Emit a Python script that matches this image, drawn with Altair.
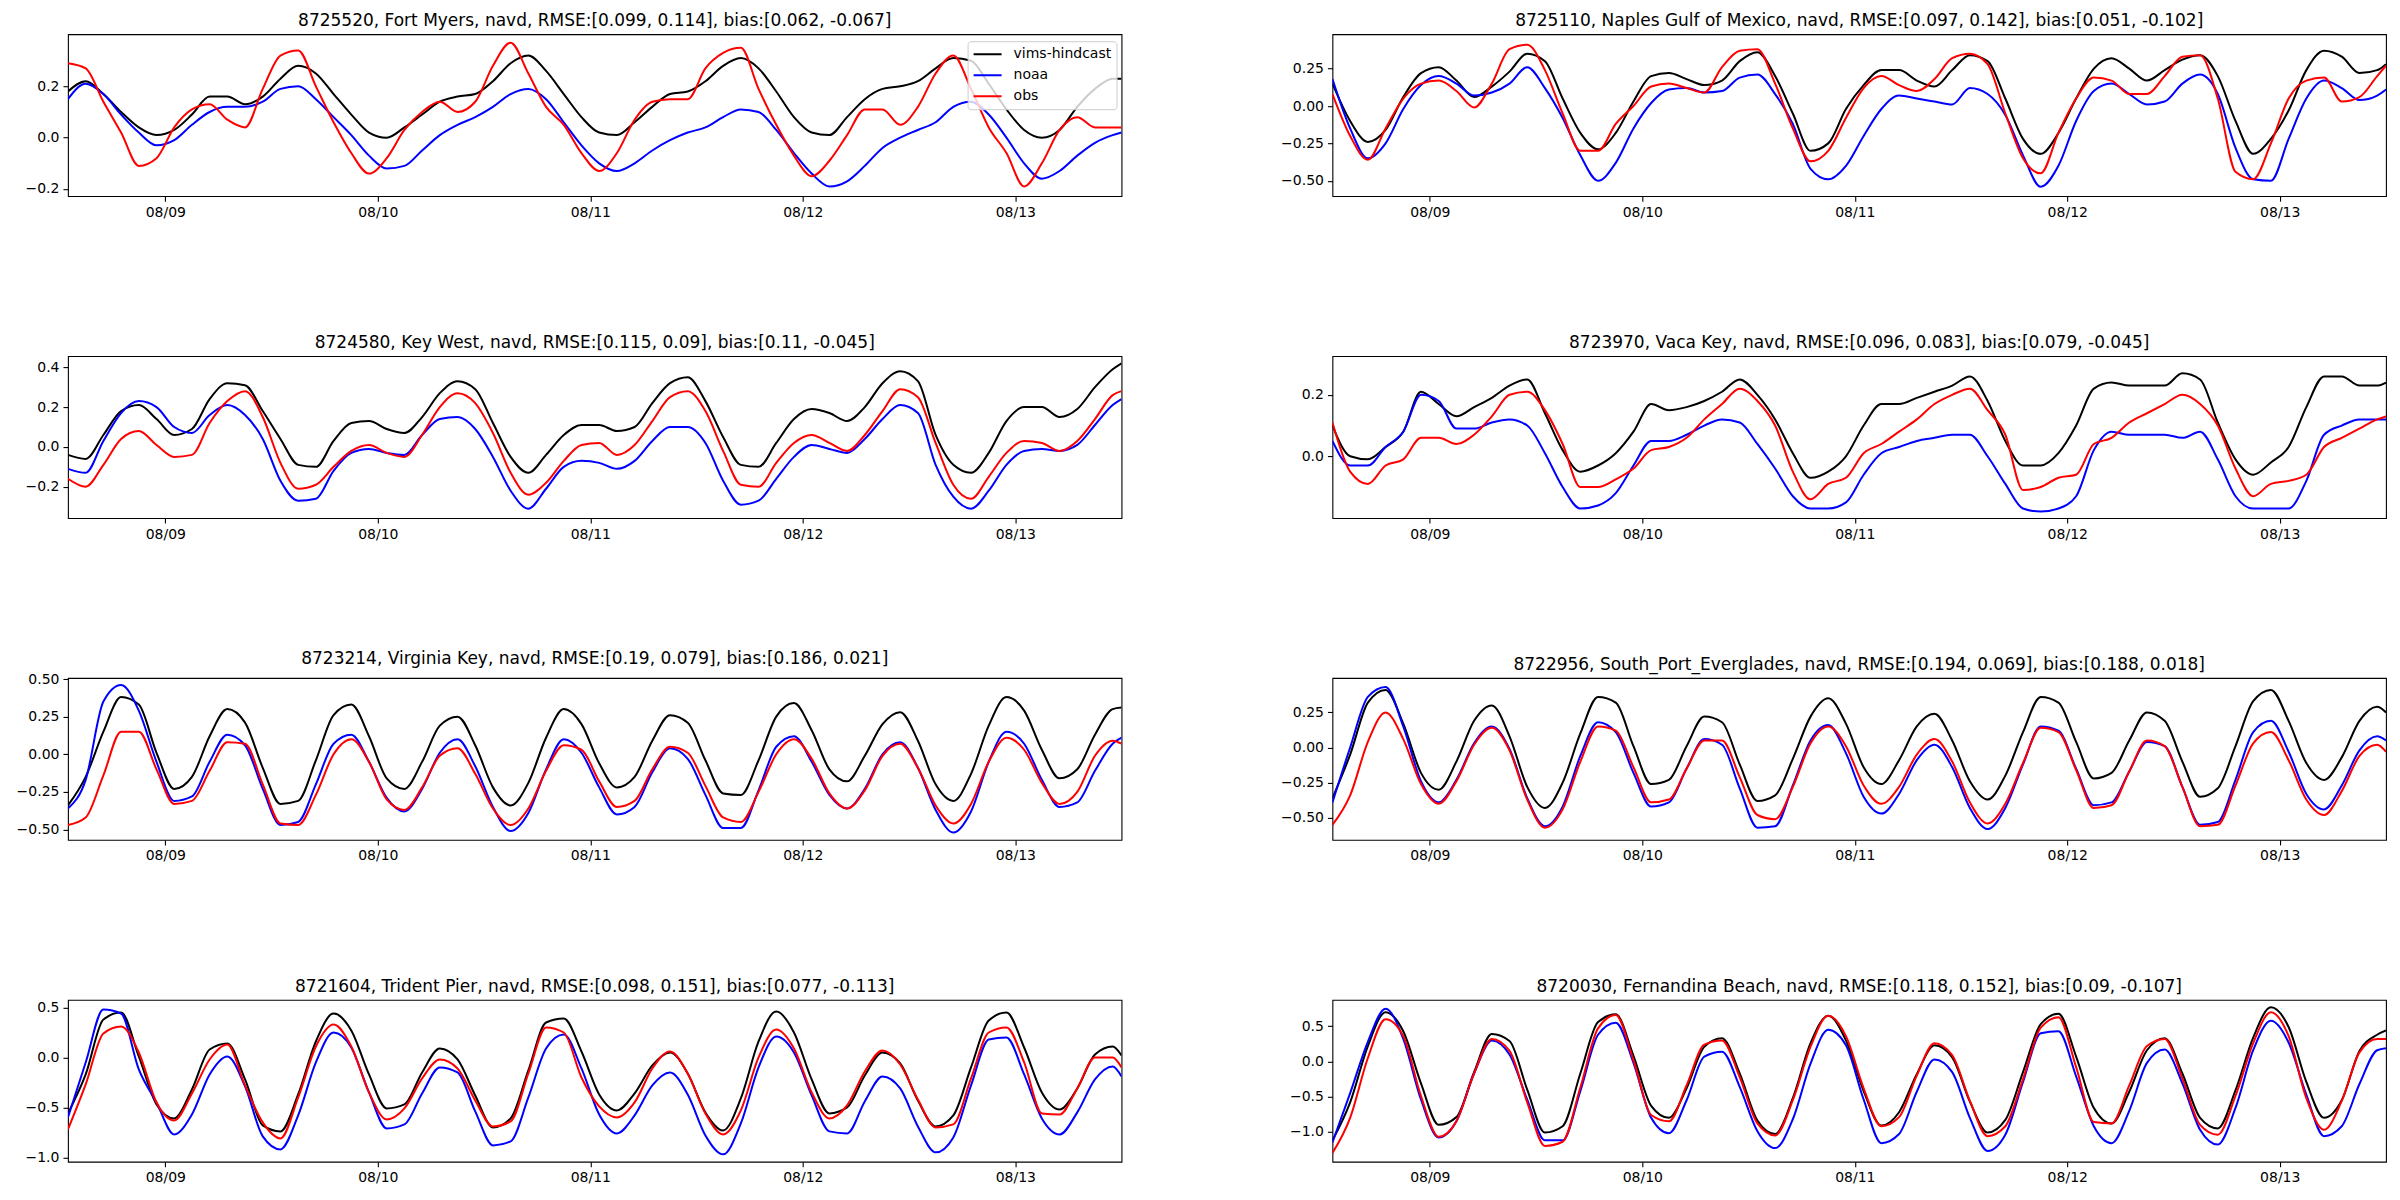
import altair as alt
import pandas as pd

SERIES = ["vims-hindcast", "noaa", "obs"]
COLORS = ["#000000", "#0000ff", "#ff0000"]
HOURS = list(range(0, 119, 2)) + [119]
START = pd.Timestamp("2022-08-08 13:00")
TIMES = [(START + pd.Timedelta(hours=h)).strftime("%Y-%m-%dT%H:%M:%S") for h in HOURS]

# ---- 8725520 Fort Myers
fm_vims = [0.18,0.22,0.17,0.10,0.04,0.01,0.03,0.09,0.16,0.16,
           0.13,0.16,0.23,0.28,0.25,0.17,0.09,0.02,0.00,0.04,
           0.09,0.14,0.16,0.17,0.22,0.29,0.32,0.26,0.17,0.08,
           0.02,0.01,0.06,0.12,0.17,0.18,0.22,0.28,0.31,0.27,
           0.18,0.08,0.02,0.01,0.08,0.15,0.19,0.20,0.22,0.27,
           0.31,0.30,0.21,0.11,0.03,0.00,0.03,0.12,0.19,0.23,
           0.23]
fm_noaa = [0.15,0.21,0.17,0.09,0.02,-0.03,-0.01,0.05,0.10,0.12,
           0.12,0.14,0.19,0.20,0.15,0.08,0.01,-0.07,-0.12,-0.11,
           -0.05,0.01,0.05,0.08,0.12,0.17,0.19,0.15,0.06,-0.03,
           -0.10,-0.13,-0.10,-0.05,-0.01,0.02,0.04,0.08,0.11,0.10,
           0.03,-0.06,-0.14,-0.19,-0.17,-0.11,-0.04,0.00,0.03,0.06,
           0.12,0.14,0.09,0.00,-0.10,-0.16,-0.13,-0.07,-0.02,0.01,
           0.02]
fm_obs = [0.29,0.27,0.14,0.02,-0.11,-0.08,0.04,0.11,0.13,0.07,
          0.04,0.19,0.32,0.34,0.20,0.06,-0.06,-0.14,-0.08,0.03,
          0.10,0.14,0.10,0.14,0.28,0.37,0.25,0.12,0.05,-0.06,
          -0.13,-0.06,0.07,0.14,0.15,0.15,0.27,0.33,0.35,0.19,
          0.05,-0.07,-0.15,-0.09,0.01,0.11,0.11,0.05,0.12,0.25,
          0.32,0.19,0.04,-0.06,-0.19,-0.10,0.03,0.08,0.04,0.04,
          0.04]

# ---- 8725110 Naples Gulf of Mexico
nap_vims = [0.15,-0.10,-0.24,-0.16,0.06,0.22,0.26,0.17,0.06,0.13,
            0.23,0.35,0.30,0.05,-0.18,-0.29,-0.18,0.03,0.20,0.22,
            0.18,0.14,0.17,0.30,0.36,0.20,-0.05,-0.30,-0.25,-0.02,
            0.14,0.24,0.24,0.17,0.13,0.24,0.34,0.30,0.05,-0.22,
            -0.32,-0.18,0.05,0.25,0.32,0.25,0.17,0.24,0.31,0.34,
            0.20,-0.10,-0.32,-0.22,-0.03,0.24,0.37,0.33,0.22,0.24,
            0.28]
nap_noaa = [0.18,-0.15,-0.35,-0.25,-0.02,0.14,0.20,0.15,0.07,0.09,
            0.15,0.26,0.12,-0.08,-0.33,-0.50,-0.38,-0.15,0.02,0.11,
            0.12,0.09,0.10,0.19,0.21,0.08,-0.12,-0.42,-0.49,-0.40,
            -0.20,-0.02,0.07,0.05,0.03,0.01,0.12,0.08,-0.06,-0.33,
            -0.54,-0.40,-0.10,0.10,0.15,0.08,0.01,0.03,0.15,0.21,
            0.08,-0.28,-0.49,-0.50,-0.22,0.05,0.17,0.12,0.04,0.07,
            0.11]
nap_obs = [0.08,-0.20,-0.36,-0.15,0.05,0.15,0.17,0.10,-0.01,0.15,
           0.38,0.41,0.24,-0.05,-0.30,-0.30,-0.12,0.00,0.13,0.15,
           0.12,0.09,0.26,0.37,0.38,0.15,-0.15,-0.37,-0.30,-0.08,
           0.12,0.20,0.14,0.10,0.18,0.32,0.35,0.28,-0.05,-0.35,
           -0.45,-0.18,0.05,0.19,0.17,0.08,0.08,0.20,0.33,0.34,
           0.05,-0.44,-0.49,-0.25,0.05,0.17,0.19,0.03,0.06,0.20,
           0.27]

# ---- 8724580 Key West
kw_vims = [-0.04,-0.06,0.06,0.18,0.21,0.14,0.06,0.09,0.24,0.32,
           0.31,0.18,0.04,-0.09,-0.10,0.03,0.12,0.13,0.09,0.07,
           0.15,0.27,0.33,0.29,0.12,-0.05,-0.13,-0.04,0.06,0.11,
           0.11,0.08,0.10,0.22,0.32,0.35,0.23,0.05,-0.09,-0.10,
           0.02,0.14,0.19,0.17,0.13,0.20,0.32,0.38,0.33,0.06,
           -0.09,-0.13,-0.03,0.13,0.20,0.20,0.15,0.19,0.30,0.39,
           0.42]
kw_noaa = [-0.11,-0.13,0.03,0.17,0.23,0.20,0.10,0.07,0.16,0.21,
           0.16,0.04,-0.17,-0.27,-0.26,-0.12,-0.03,-0.01,-0.03,-0.04,
           0.06,0.14,0.15,0.09,-0.05,-0.22,-0.31,-0.21,-0.10,-0.07,
           -0.08,-0.11,-0.07,0.03,0.10,0.10,0.02,-0.17,-0.29,-0.27,
           -0.16,-0.05,0.01,-0.01,-0.03,0.04,0.14,0.21,0.17,-0.09,
           -0.25,-0.31,-0.22,-0.09,-0.02,-0.01,-0.02,0.01,0.11,0.21,
           0.24]
kw_obs = [-0.16,-0.20,-0.09,0.04,0.08,0.01,-0.05,-0.04,0.12,0.23,
          0.28,0.15,-0.08,-0.21,-0.19,-0.10,-0.02,0.01,-0.03,-0.05,
          0.06,0.20,0.27,0.22,0.07,-0.13,-0.24,-0.18,-0.07,0.01,
          0.02,-0.04,0.01,0.13,0.25,0.28,0.18,-0.02,-0.19,-0.20,
          -0.08,0.02,0.06,0.02,-0.02,0.06,0.18,0.29,0.25,0.02,
          -0.19,-0.26,-0.15,-0.03,0.03,0.02,-0.02,0.03,0.14,0.26,
          0.28]

# ---- 8723970 Vaca Key
vk_vims = [0.10,0.00,-0.01,0.03,0.08,0.21,0.17,0.13,0.16,0.19,
           0.23,0.25,0.14,0.02,-0.05,-0.03,0.01,0.08,0.17,0.15,
           0.16,0.18,0.21,0.25,0.20,0.12,0.01,-0.07,-0.05,0.00,
           0.10,0.17,0.17,0.19,0.21,0.23,0.26,0.18,0.05,-0.03,
           -0.03,0.01,0.10,0.22,0.24,0.23,0.23,0.23,0.27,0.25,
           0.11,-0.01,-0.06,-0.02,0.03,0.16,0.26,0.26,0.23,0.23,
           0.24]
vk_noaa = [0.05,-0.03,-0.03,0.03,0.08,0.20,0.18,0.09,0.09,0.11,
           0.12,0.10,0.01,-0.10,-0.17,-0.16,-0.12,-0.03,0.05,0.05,
           0.07,0.10,0.12,0.11,0.04,-0.04,-0.13,-0.17,-0.17,-0.15,
           -0.06,0.01,0.03,0.05,0.06,0.07,0.07,0.00,-0.09,-0.17,
           -0.18,-0.17,-0.13,0.02,0.08,0.07,0.07,0.07,0.06,0.08,
           -0.01,-0.13,-0.17,-0.17,-0.17,-0.08,0.07,0.10,0.12,0.12,
           0.12]
vk_obs = [0.11,-0.05,-0.09,-0.03,-0.01,0.06,0.06,0.04,0.07,0.13,
          0.20,0.21,0.15,0.04,-0.10,-0.10,-0.075,-0.04,0.02,0.03,
          0.06,0.12,0.17,0.22,0.18,0.10,-0.05,-0.14,-0.09,-0.07,
          0.01,0.04,0.08,0.12,0.17,0.20,0.22,0.15,0.07,-0.11,
          -0.10,-0.07,-0.06,0.04,0.06,0.11,0.14,0.17,0.20,0.17,
          0.10,-0.04,-0.13,-0.09,-0.08,-0.06,0.03,0.06,0.09,0.12,
          0.13]

# ---- 8723214 Virginia Key
vak_vims = [-0.34,-0.15,0.15,0.38,0.33,0.01,-0.23,-0.15,0.12,0.30,
            0.21,-0.09,-0.33,-0.31,-0.04,0.26,0.33,0.12,-0.16,-0.23,
            -0.05,0.19,0.25,0.06,-0.22,-0.34,-0.19,0.11,0.30,0.20,
            -0.06,-0.22,-0.15,0.09,0.26,0.21,-0.04,-0.26,-0.27,-0.04,
            0.25,0.34,0.16,-0.10,-0.18,-0.01,0.20,0.28,0.09,-0.20,
            -0.31,-0.13,0.19,0.38,0.29,0.03,-0.16,-0.10,0.13,0.30,
            0.31]
vak_noaa = [-0.36,-0.17,0.35,0.46,0.29,-0.05,-0.31,-0.28,-0.05,0.13,
            0.06,-0.23,-0.47,-0.45,-0.20,0.07,0.13,-0.05,-0.29,-0.38,
            -0.23,0.01,0.10,-0.08,-0.35,-0.51,-0.39,-0.10,0.10,0.01,
            -0.22,-0.40,-0.35,-0.12,0.04,-0.03,-0.27,-0.49,-0.49,-0.24,
            0.05,0.12,-0.05,-0.27,-0.36,-0.23,0.00,0.08,-0.09,-0.37,
            -0.52,-0.38,-0.05,0.15,0.07,-0.17,-0.35,-0.32,-0.11,0.07,
            0.11]
vak_obs = [-0.47,-0.42,-0.14,0.15,0.15,-0.10,-0.33,-0.31,-0.11,0.08,
           0.07,-0.20,-0.46,-0.47,-0.27,0.00,0.10,-0.05,-0.30,-0.37,
           -0.22,-0.01,0.04,-0.13,-0.36,-0.47,-0.36,-0.11,0.06,0.03,
           -0.18,-0.35,-0.31,-0.10,0.05,0.01,-0.21,-0.42,-0.45,-0.25,
           0.00,0.10,-0.03,-0.26,-0.36,-0.24,-0.01,0.07,-0.09,-0.34,
           -0.46,-0.33,-0.05,0.11,0.03,-0.19,-0.33,-0.25,-0.01,0.09,
           0.07]

# ---- 8722956 South_Port_Everglades
spe_vims = [-0.36,-0.05,0.32,0.41,0.17,-0.18,-0.30,-0.10,0.19,0.30,
            0.08,-0.28,-0.43,-0.25,0.10,0.36,0.32,0.01,-0.26,-0.23,
            0.01,0.22,0.18,-0.12,-0.38,-0.34,-0.08,0.22,0.35,0.17,
            -0.14,-0.26,-0.09,0.15,0.24,0.05,-0.24,-0.37,-0.20,0.11,
            0.36,0.32,0.04,-0.22,-0.18,0.05,0.25,0.19,-0.10,-0.35,
            -0.29,0.01,0.33,0.41,0.19,-0.11,-0.23,-0.07,0.19,0.29,
            0.25]
spe_noaa = [-0.39,0.00,0.36,0.43,0.15,-0.24,-0.39,-0.23,0.03,0.15,
            -0.01,-0.36,-0.56,-0.42,-0.06,0.18,0.11,-0.18,-0.42,-0.39,
            -0.15,0.06,0.02,-0.29,-0.57,-0.56,-0.27,0.05,0.16,-0.04,
            -0.35,-0.47,-0.33,-0.09,0.02,-0.14,-0.43,-0.58,-0.43,-0.12,
            0.15,0.12,-0.15,-0.41,-0.39,-0.17,0.04,0.01,-0.28,-0.55,
            -0.53,-0.23,0.11,0.19,-0.03,-0.33,-0.44,-0.27,-0.02,0.08,
            0.05]
spe_obs = [-0.55,-0.34,0.04,0.25,0.06,-0.26,-0.40,-0.24,0.02,0.14,
           -0.02,-0.37,-0.57,-0.44,-0.10,0.15,0.12,-0.14,-0.39,-0.37,
           -0.15,0.05,0.05,-0.21,-0.48,-0.51,-0.28,0.03,0.15,0.01,
           -0.27,-0.40,-0.28,-0.05,0.06,-0.10,-0.39,-0.54,-0.40,-0.11,
           0.14,0.11,-0.16,-0.43,-0.41,-0.17,0.05,0.01,-0.28,-0.56,
           -0.55,-0.27,0.03,0.11,-0.09,-0.37,-0.48,-0.31,-0.06,0.02,
           -0.03]

# ---- 8721604 Trident Pier
tp_vims = [-0.56,-0.17,0.38,0.45,0.01,-0.47,-0.61,-0.32,0.08,0.14,
           -0.22,-0.68,-0.74,-0.37,0.16,0.44,0.27,-0.17,-0.51,-0.47,
           -0.15,0.09,-0.02,-0.38,-0.70,-0.61,-0.13,0.35,0.39,0.06,
           -0.37,-0.53,-0.36,-0.08,0.05,-0.16,-0.55,-0.73,-0.41,0.16,
           0.46,0.25,-0.22,-0.56,-0.50,-0.18,0.05,-0.06,-0.43,-0.69,
           -0.58,-0.10,0.37,0.45,0.10,-0.35,-0.52,-0.31,0.03,0.11,
           0.02]
tp_noaa = [-0.60,-0.05,0.48,0.44,-0.12,-0.45,-0.77,-0.57,-0.17,0.01,
           -0.29,-0.79,-0.92,-0.58,-0.05,0.25,0.10,-0.35,-0.71,-0.67,
           -0.36,-0.10,-0.15,-0.54,-0.88,-0.84,-0.40,0.09,0.23,-0.11,
           -0.57,-0.76,-0.58,-0.28,-0.15,-0.37,-0.78,-0.97,-0.66,-0.10,
           0.21,0.05,-0.38,-0.74,-0.76,-0.44,-0.19,-0.31,-0.69,-0.95,
           -0.80,-0.28,0.18,0.20,-0.17,-0.61,-0.77,-0.55,-0.22,-0.09,
           -0.19]
tp_obs = [-0.72,-0.27,0.24,0.31,0.05,-0.45,-0.63,-0.36,-0.02,0.13,
          -0.28,-0.65,-0.81,-0.40,0.11,0.33,0.11,-0.35,-0.62,-0.51,
          -0.21,-0.02,-0.11,-0.43,-0.69,-0.64,-0.16,0.30,0.25,-0.20,
          -0.49,-0.60,-0.45,-0.11,0.06,-0.16,-0.56,-0.77,-0.53,0.00,
          0.28,0.09,-0.35,-0.61,-0.48,-0.14,0.07,-0.07,-0.42,-0.70,
          -0.67,-0.21,0.25,0.30,-0.05,-0.56,-0.57,-0.31,0.00,0.00,
          -0.10]

# ---- 8720030 Fernandina Beach
fb_vims = [-1.12,-0.58,0.22,0.70,0.43,-0.31,-0.90,-0.79,-0.15,0.39,
           0.29,-0.40,-1.01,-0.92,-0.17,0.56,0.67,0.08,-0.63,-0.80,
           -0.38,0.21,0.33,-0.17,-0.84,-1.03,-0.52,0.26,0.65,0.30,
           -0.42,-0.91,-0.72,-0.18,0.23,0.06,-0.57,-1.01,-0.83,-0.15,
           0.53,0.68,0.07,-0.66,-0.88,-0.43,0.16,0.33,-0.17,-0.80,
           -0.95,-0.41,0.34,0.77,0.49,-0.29,-0.80,-0.55,0.15,0.38,
           0.44]
fb_noaa = [-1.15,-0.45,0.28,0.75,0.32,-0.54,-1.08,-0.85,-0.17,0.30,
           0.10,-0.54,-1.12,-1.12,-0.42,0.38,0.55,-0.02,-0.80,-1.02,
           -0.55,0.07,0.14,-0.36,-0.99,-1.23,-0.82,-0.03,0.45,0.23,
           -0.54,-1.16,-1.03,-0.43,0.03,-0.15,-0.80,-1.27,-1.04,-0.29,
           0.40,0.43,-0.21,-0.92,-1.16,-0.70,-0.02,0.17,-0.31,-0.97,
           -1.18,-0.66,0.16,0.58,0.27,-0.47,-1.06,-0.92,-0.32,0.16,
           0.19]
fb_obs = [-1.30,-0.80,0.05,0.60,0.36,-0.49,-1.07,-0.85,-0.17,0.32,
          0.15,-0.58,-1.20,-1.14,-0.37,0.47,0.66,0.02,-0.76,-0.85,
          -0.34,0.24,0.30,-0.22,-0.88,-1.05,-0.55,0.21,0.65,0.36,
          -0.38,-0.92,-0.79,-0.20,0.26,0.09,-0.56,-1.06,-0.92,-0.25,
          0.48,0.63,-0.08,-0.86,-0.88,-0.34,0.22,0.32,-0.24,-0.90,
          -1.04,-0.49,0.26,0.70,0.36,-0.52,-0.97,-0.56,0.13,0.32,
          0.32]

TITLES = [
    "8725520, Fort Myers, navd, RMSE:[0.099, 0.114], bias:[0.062, -0.067]",
    "8725110, Naples Gulf of Mexico, navd, RMSE:[0.097, 0.142], bias:[0.051, -0.102]",
    "8724580, Key West, navd, RMSE:[0.115, 0.09], bias:[0.11, -0.045]",
    "8723970, Vaca Key, navd, RMSE:[0.096, 0.083], bias:[0.079, -0.045]",
    "8723214, Virginia Key, navd, RMSE:[0.19, 0.079], bias:[0.186, 0.021]",
    "8722956, South_Port_Everglades, navd, RMSE:[0.194, 0.069], bias:[0.188, 0.018]",
    "8721604, Trident Pier, navd, RMSE:[0.098, 0.151], bias:[0.077, -0.113]",
    "8720030, Fernandina Beach, navd, RMSE:[0.118, 0.152], bias:[0.09, -0.107]",
]
DATA = [
    (fm_vims, fm_noaa, fm_obs), (nap_vims, nap_noaa, nap_obs),
    (kw_vims, kw_noaa, kw_obs), (vk_vims, vk_noaa, vk_obs),
    (vak_vims, vak_noaa, vak_obs), (spe_vims, spe_noaa, spe_obs),
    (tp_vims, tp_noaa, tp_obs), (fb_vims, fb_noaa, fb_obs),
]
Y_DOMAINS = [[-0.228, 0.403], [-0.603, 0.480], [-0.357, 0.456], [-0.201, 0.326],
             [-0.569, 0.507], [-0.657, 0.495], [-1.044, 0.577], [-1.424, 0.876]]
Y_TICKS = [[-0.2, 0.0, 0.2], [-0.5, -0.25, 0.0, 0.25], [-0.2, 0.0, 0.2, 0.4], [0.0, 0.2],
           [-0.5, -0.25, 0.0, 0.25, 0.5], [-0.5, -0.25, 0.0, 0.25],
           [-1.0, -0.5, 0.0, 0.5], [-1.0, -0.5, 0.0, 0.5]]
Y_FORMATS = [".1f", ".2f", ".1f", ".1f", ".2f", ".2f", ".1f", ".1f"]

for trio in DATA:
    for arr in trio:
        if len(arr) != len(HOURS):
            raise ValueError("length mismatch %d" % len(arr))

X_DOMAIN = [alt.DateTime(year=2022, month=8, date=8, hours=13),
            alt.DateTime(year=2022, month=8, date=13, hours=12)]
X_TICKS = [alt.DateTime(year=2022, month=8, date=d) for d in range(9, 14)]

FONT = "DejaVu Sans"


def make_panel(i):
    vims, noaa, obs = DATA[i]
    df = pd.DataFrame({"time": TIMES, "vims-hindcast": vims, "noaa": noaa, "obs": obs})
    df = df.melt("time", var_name="series", value_name="value")
    if i == 0:
        legend = alt.Legend(orient="none", legendX=900, legendY=7, title=None,
                            direction="vertical", symbolType="stroke", symbolSize=784,
                            clipHeight=16, symbolStrokeWidth=2, labelFontSize=14,
                            labelFont=FONT, labelColor="black", labelOffset=11,
                            labelLimit=300, rowPadding=5, padding=5,
                            fillColor="rgba(255,255,255,0.8)", strokeColor="#cccccc",
                            cornerRadius=3)
    else:
        legend = None
    layers = []
    for s in SERIES:
        layers.append(
            alt.Chart(df[df["series"] == s]).mark_line(
                interpolate="monotone", strokeWidth=2, clip=True
            ).encode(
                x=alt.X("time:T", scale=alt.Scale(domain=X_DOMAIN),
                        axis=alt.Axis(values=X_TICKS, format="%m/%d", title=None,
                                      grid=False, domain=False)),
                y=alt.Y("value:Q",
                        scale=alt.Scale(domain=Y_DOMAINS[i], nice=False, zero=False),
                        axis=alt.Axis(values=Y_TICKS[i], format=Y_FORMATS[i], title=None,
                                      grid=False, domain=False)),
                color=alt.Color("series:N", scale=alt.Scale(domain=SERIES, range=COLORS),
                                legend=legend),
            )
        )
    return alt.layer(*layers).properties(
        width=1054, height=162,
        title=alt.TitleParams(TITLES[i], fontSize=17, font=FONT, fontWeight="normal",
                              offset=4, color="black", anchor="middle"),
    )


panels = [make_panel(i) for i in range(8)]

chart = alt.concat(*panels, columns=2, spacing={"row": 160, "column": 211}, bounds="flush")
chart = chart.resolve_scale(x="independent", y="independent", color="independent")
chart = chart.resolve_legend(color="independent")
chart = chart.properties(padding={"left": 7, "top": 3, "right": 5, "bottom": 5},
                         background="white")
chart = chart.configure_view(stroke="black", strokeWidth=1.1).configure_axis(
    grid=False, domain=False, tickColor="black", tickSize=5, tickWidth=1.1,
    labelFontSize=14, labelFont=FONT, labelColor="black", labelPadding=4,
).configure_legend(labelFontSize=14, labelFont=FONT, labelColor="black")

chart.save("out.html", embed_options={"renderer": "svg", "actions": False})
